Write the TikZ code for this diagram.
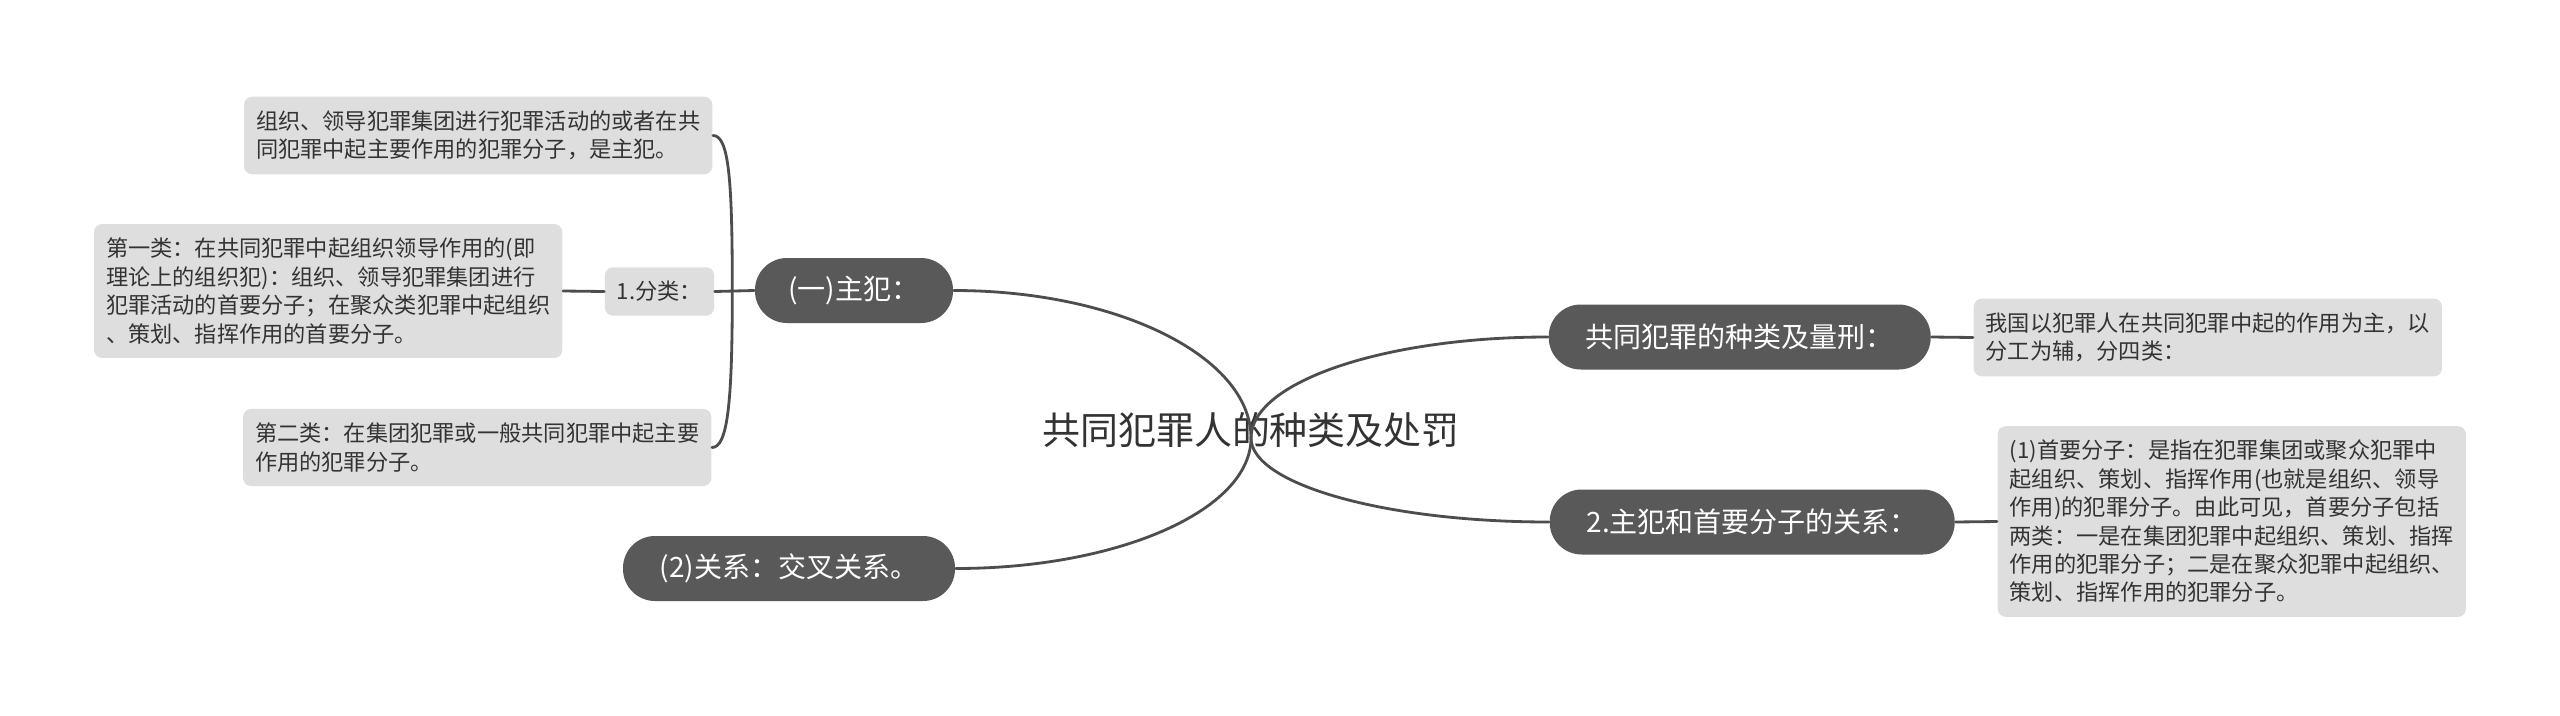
\documentclass[tikz,border=0pt]{standalone}
\usepackage{fontspec}
\newfontfamily\cjk{Noto Sans CJK SC}
\usetikzlibrary{calc}
\definecolor{mapink}{HTML}{333333}
\definecolor{mapline}{HTML}{4D4D4D}
\definecolor{mapdark}{HTML}{595959}
\definecolor{mapleaf}{HTML}{DEDEDE}

\begin{document}
\begin{tikzpicture}[line cap=round,line join=round,
  font=\cjk,text=mapink,
  topic/.style={fill=mapdark,text=white,rounded corners=3.2mm,minimum height=.65cm,
    inner xsep=3mm,font=\cjk\fontsize{7.97pt}{9pt}\selectfont},
  leaf/.style={fill=mapleaf,rounded corners=.8mm,inner xsep=1.2mm,inner ysep=1.4mm,
    align=left,font=\cjk\fontsize{6.32pt}{8.08pt}\selectfont},
  link/.style={draw=mapline,line width=.8pt}]
\path[use as bounding box] (0,0) rectangle (25.6,7.15);
\fill[white] (0,0) rectangle (25.6,7.15);

% 中心主题
\node[font=\cjk\fontsize{10.8pt}{13pt}\selectfont] (title) at (12.51,2.85) {共同犯罪人的种类及处罚};
\coordinate (root) at (12.51,2.77);

% 左侧：(一)主犯 与 (2)关系
\node[topic,minimum width=1.98cm] (n1) at (8.54,4.245) {(一)主犯：};
\node[topic,minimum width=3.32cm] (n2) at (7.89,1.465) {(2)关系：交叉关系。};
\node[leaf,anchor=east] (a) at (7.13,5.795) {组织、领导犯罪集团进行犯罪活动的或者在共\\同犯罪中起主要作用的犯罪分子，是主犯。};
\node[leaf] (k1) at (6.595,4.235) {1.分类：};
\node[leaf,anchor=east] (b) at (5.63,4.24) {第一类：在共同犯罪中起组织领导作用的(即\\理论上的组织犯)：组织、领导犯罪集团进行\\犯罪活动的首要分子；在聚众类犯罪中起组织\\、策划、指挥作用的首要分子。};
\node[leaf,anchor=east] (c) at (7.12,2.675) {第二类：在集团犯罪或一般共同犯罪中起主要\\作用的犯罪分子。};

% 右侧：种类及量刑、主犯和首要分子
\node[topic,anchor=west,minimum width=3.82cm] (r1) at (15.48,3.78) {共同犯罪的种类及量刑：};
\node[topic,anchor=west,minimum width=4.05cm] (r2) at (15.49,1.93) {2.主犯和首要分子的关系：};
\node[leaf,anchor=west] (d) at (19.73,3.775) {我国以犯罪人在共同犯罪中起的作用为主，以\\分工为辅，分四类：};
\node[leaf,anchor=west] (e) at (19.97,1.935) {(1)首要分子：是指在犯罪集团或聚众犯罪中\\起组织、策划、指挥作用(也就是组织、领导\\作用)的犯罪分子。由此可见，首要分子包括\\两类：一是在集团犯罪中起组织、策划、指挥\\作用的犯罪分子；二是在聚众犯罪中起组织、\\策划、指挥作用的犯罪分子。};

% 连线
\draw[link] (root) .. controls +(0,.81) and +(1.645,0) .. (n1.east);
\draw[link] (root) .. controls +(0,-.72) and +(1.63,0) .. (n2.east);
\draw[link] (root) .. controls +(0,.56) and +(-1.64,0) .. (r1.west);
\draw[link] (root) .. controls +(0,-.46) and +(-1.645,0) .. (r2.west);
\coordinate (j1) at ($(n1.west)+(-.22,0)$);
\draw[link] (n1.west) -- (k1.east);
\draw[link] (k1.west) -- (b.east);
\draw[link] (j1) .. controls +(0,1.1) and +(.16,0) .. (a.east);
\draw[link] (j1) .. controls +(0,-1.1) and +(.16,0) .. (c.east);
\draw[link] (r1.east) -- (d.west);
\draw[link] (r2.east) -- (e.west);
\end{tikzpicture}
\end{document}
